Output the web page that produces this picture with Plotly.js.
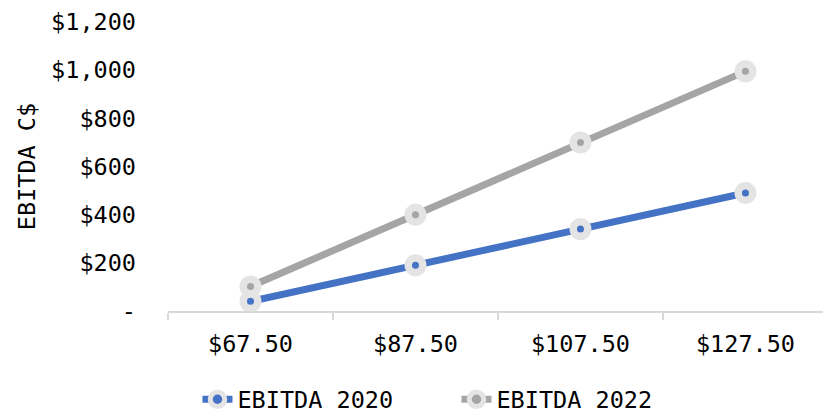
<!DOCTYPE html>
<html><head><meta charset="utf-8">
<script src="https://cdn.plot.ly/plotly-3.0.1.min.js"></script>
<style>html,body{margin:0;padding:0;background:#fff;}</style>
</head><body>
<div id="chart" style="width:823px;height:413px;"></div>
<script>
const categories = ["$67.50", "$87.50", "$107.50", "$127.50"];
const ebitda2020 = [40, 190, 340, 490];
const ebitda2022 = [102, 400, 700, 995];
const yTickVals = [0, 200, 400, 600, 800, 1000, 1200];
const yTickText = ["-", "$200", "$400", "$600", "$800", "$1,000", "$1,200"];

const fontFam = "'DejaVu Sans Mono', monospace";
const fs = 23.5;
function series(name, y, color) {
  return {
    type: "scatter", mode: "lines+markers", name: name,
    x: categories, y: y,
    line: {color: color, width: 7},
    marker: {color: color, size: 14.5, line: {color: "#e4e4e4", width: 7.5}},
    cliponaxis: false
  };
}
const data = [
  series("EBITDA 2020", ebitda2020, "#4472C4"),
  series("EBITDA 2022", ebitda2022, "#A5A5A5")
];
const layout = {
  width: 823, height: 413,
  margin: {l: 168, r: 0, t: 22, b: 102, autoexpand: false},
  paper_bgcolor: "#fff", plot_bgcolor: "#fff",
  font: {family: fontFam, size: fs, color: "#000"},
  showlegend: true,
  legend: {orientation: "h", x: 0.045, xanchor: "left", y: -0.23, yanchor: "top",
           entrywidth: 214, entrywidthmode: "pixels",
           font: {family: fontFam, size: fs, color: "#000"}, itemclick: false},
  xaxis: {
    type: "category", range: [-0.5, 3.47], tickson: "boundaries",
    ticks: "outside", ticklen: 7, tickcolor: "#d9d9d9", tickwidth: 1.5,
    showline: true, linecolor: "#d9d9d9", linewidth: 1.5,
    showgrid: false, zeroline: false, fixedrange: true,
    tickfont: {family: fontFam, size: fs, color: "#000"}, ticklabelstandoff: 11
  },
  yaxis: {
    range: [0, 1200], tickvals: yTickVals, ticktext: yTickText,
    showgrid: false, zeroline: false, showline: false, ticks: "",
    ticklabelstandoff: 31,
    tickfont: {family: fontFam, size: fs, color: "#000"},
    title: {text: "EBITDA C$", font: {family: fontFam, size: fs, color: "#000"}, standoff: 8}
  }
};
Plotly.newPlot("chart", data, layout, {displayModeBar: false, staticPlot: true});
</script>
</body></html>
